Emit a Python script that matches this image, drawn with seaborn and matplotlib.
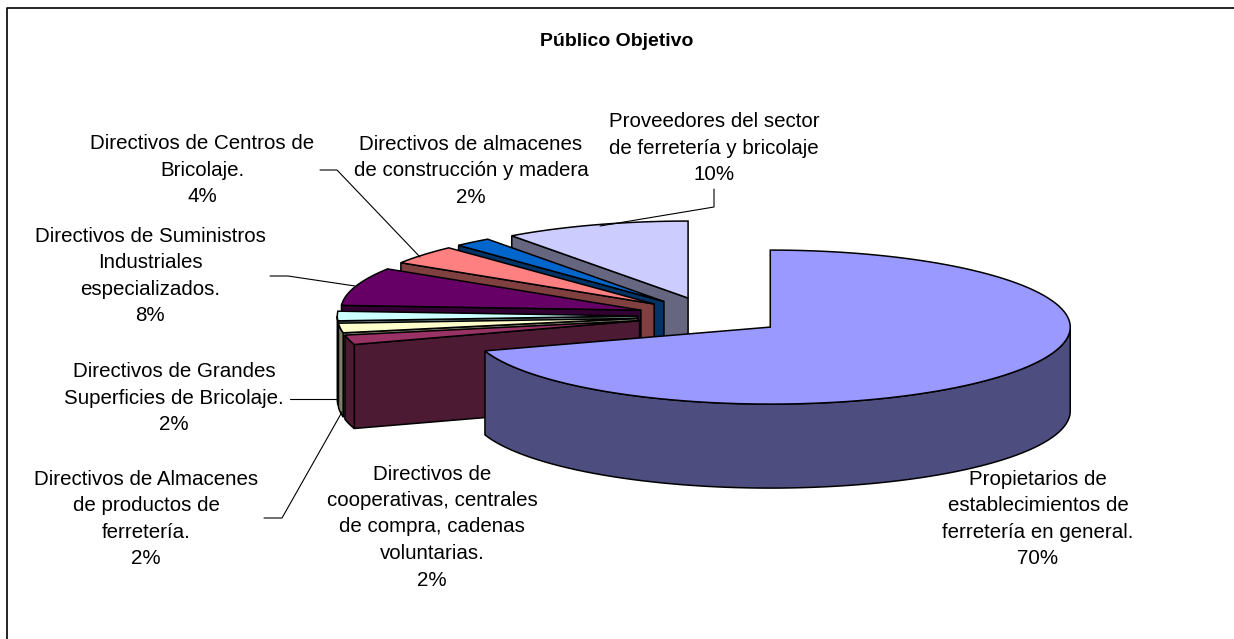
import numpy as np
import seaborn as sns
import matplotlib.pyplot as plt

# Datos del grafico
categorias = [
    "Propietarios de\nestablecimientos de\nferretería en general.",
    "Directivos de\ncooperativas, centrales\nde compra, cadenas\nvoluntarias.",
    "Directivos de Almacenes\nde productos de\nferretería.",
    "Directivos de Grandes\nSuperficies de Bricolaje.",
    "Directivos de Suministros\nIndustriales\nespecializados.",
    "Directivos de Centros de\nBricolaje.",
    "Directivos de almacenes\nde construcción y madera",
    "Proveedores del sector\nde ferretería y bricolaje",
]
valores = [70, 2, 2, 2, 8, 4, 2, 10]
colores_top = ["#9999FF", "#993366", "#FFFFCC", "#CCFFFF", "#660066", "#FF8080", "#0066CC", "#CCCCFF"]
colores_lado = ["#4D4D80", "#4D1A33", "#808066", "#668080", "#330033", "#804040", "#003366", "#666680"]
pos_etiquetas = [(1038, 519), (432, 527), (146, 519), (174, 398), (150, 276), (202, 170), (471, 171), (714, 148)]

# geometria del pastel en pixeles
centro = (710.8, 316)
rx, ry = 300, 77
alto = 84
explosion = 0.245

sns.set_theme(style="white")
plt.rcParams["font.family"] = ["Liberation Sans", "DejaVu Sans"]

fig, ax = plt.subplots(figsize=(12.34, 6.39), dpi=100)
ax.set_position([0, 0, 1, 1])
ax.set_xlim(0, 1234)
ax.set_ylim(639, 0)
ax.axis("off")


def punto(ang, ox, oy):
    return ox + rx * np.sin(ang), oy - ry * np.cos(ang)


def cara(xs, ys, color, z):
    xs = np.asarray(xs)
    ys = np.asarray(ys)
    ax.fill(np.r_[xs, xs[::-1]], np.r_[ys, ys[::-1] + alto], color=color, ec="black", lw=1.1, zorder=z)


limites = np.radians(np.cumsum([0] + valores) * 3.6)

# de atras hacia delante: el primer sector (el grande) queda encima
for i in range(len(valores) - 1, -1, -1):
    ini, fin = limites[i], limites[i + 1]
    medio = (ini + fin) / 2
    ox = centro[0] + explosion * rx * np.sin(medio)
    oy = centro[1] - explosion * ry * np.cos(medio)
    z = (len(valores) - i) * 3
    arco = np.linspace(ini, fin, 120)
    ax_x, ax_y = punto(arco, ox, oy)

    # cara del corte visible
    if np.sin(ini) < -1e-6:
        x0, y0 = punto(ini, ox, oy)
        cara([ox, x0], [oy, y0], colores_lado[i], z)
    # pared exterior, solo la parte frontal
    frente = np.cos(arco) < 0
    if frente.sum() > 1:
        cara(ax_x[frente], ax_y[frente], colores_lado[i], z + 1)
    # tapa
    ax.fill(np.r_[ox, ax_x], np.r_[oy, ax_y], color=colores_top[i], ec="black", lw=1.1, zorder=z + 2)

# lineas guia
guias = [
    ([320, 337, 420], [170, 170, 257]),
    ([270, 288, 355], [276, 276, 286]),
    ([290, 338], [399, 399]),
    ([264, 282, 342], [518, 518, 412]),
    ([714, 714, 600], [189, 207, 226]),
]
for gx, gy in guias:
    ax.plot(gx, gy, color="black", lw=0.8, zorder=40)

# etiquetas
for (x, y), cat, val in zip(pos_etiquetas, categorias, valores):
    ax.text(x, y, f"{cat}\n{val}%", ha="center", va="center", fontsize=14.8, linespacing=1.5, color="black", zorder=50)

ax.text(617, 41.5, "Público Objetivo", ha="center", va="center", fontsize=14, fontweight="bold", color="black")

# marco: solo arriba y a la izquierda
ax.plot([6.5, 6.5, 1234], [639, 7.5, 7.5], color="black", lw=1.2, zorder=60)

fig.savefig("out.png", dpi=100, facecolor="white")
